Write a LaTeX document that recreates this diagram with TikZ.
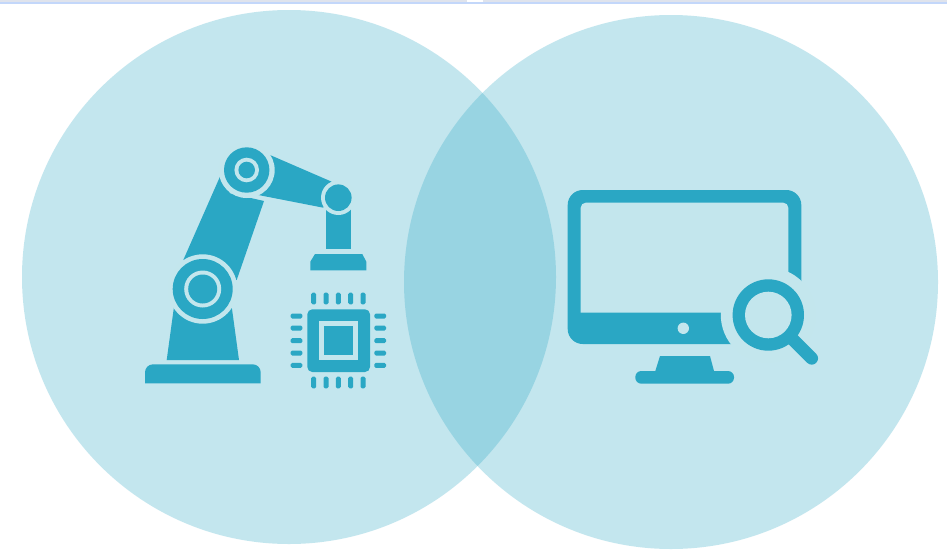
\documentclass[tikz,border=0pt]{standalone}
\definecolor{iconblue}{HTML}{2AA7C4}
\definecolor{paleblue}{RGB}{195,230,237}
\definecolor{stripgray}{HTML}{DFE3EC}
\definecolor{stripblue}{HTML}{C3D7FA}
\tikzset{
  icon/.style={fill=iconblue},
  halo/.style={fill=paleblue},
  disc/.style={fill=iconblue,fill opacity=0.28}
}
\begin{document}
\begin{tikzpicture}[x=1pt,y=-1pt]
     \useasboundingbox (0,0) rectangle (947,549);
     \fill[white] (0,0) rectangle (947,549);

     % strip at the top
     \fill[stripgray] (0,0) rectangle (947,2);
     \fill[stripblue] (0,2) rectangle (947,3.8);
     \fill[white] (467,0) rectangle (483,2);

     \fill[disc] (289,277) circle (267);
     \fill[disc] (671,282) circle (267);

     % robot
     \fill[icon] (145,383.3) [rounded corners=8] -- (145,364.3) -- (260.7,364.3) [sharp corners] -- (260.7,383.3) -- cycle;
     \fill[icon] (166.7,360)--(239,360)--(231.7,306.7)--(174,306.7)--cycle;
     \fill[icon] (183.3,260)--(220.7,175)--(230,193.3)--(264,201)--(236.7,280)--cycle;
     \fill[icon] (270,155)--(331.7,181.7)--(323.3,207.7)--(258.3,195)--cycle;
     \fill[icon] (325.7,208)--(351.3,208)--(351.3,249)--(325.7,249)--cycle;
     \fill[icon] (315,254)--(362.3,254)--(366.3,261.7)--(366.3,270.3)--(310.3,270.3)--(310.3,261.7)--cycle;

     % joints
     \fill[halo] (202.7,289) circle (34.7);
     \fill[icon] (202.7,289) circle (30);
     \fill[halo] (202.7,289) circle (18.5);
     \fill[icon] (202.7,289) circle (14.5);
     \fill[halo] (246.7,170) circle (28);
     \fill[icon] (246.7,170) circle (22.7);
     \fill[halo] (246.7,170) circle (12.3);
     \fill[icon] (246.7,170) circle (8.3);
     \fill[halo] (338.3,197.7) circle (17.3);
     \fill[icon] (338.3,197.7) circle (13.3);

     % chip
     \fill[icon,rounded corners=5] (307.3,309.3) rectangle (370,372);
     \fill[halo] (319,321.3) rectangle (357.7,360);
     \fill[icon] (323.7,325.7) rectangle (353.3,355.3);
     \foreach \x in {313.7,326,338.3,350.7,363} {
        \fill[icon,rounded corners=1.5] (\x-2.5,292.7) rectangle (\x+2.5,304.3);
        \fill[icon,rounded corners=1.5] (\x-2.5,376.7) rectangle (\x+2.5,388.3);
     }
     \foreach \y in {316,328,340.7,353,365.3} {
        \fill[icon,rounded corners=1.5] (290.7,\y-2.5) rectangle (302.3,\y+2.5);
        \fill[icon,rounded corners=1.5] (374.3,\y-2.5) rectangle (386,\y+2.5);
     }

     % monitor
     \fill[icon,rounded corners=15] (567.7,190) rectangle (801.3,344);
     \fill[halo] (580.7,312.7) [rounded corners=5] -- (580.7,202.7) -- (788.3,202.7) -- (788.3,312.7) [sharp corners] -- cycle;
     \fill[icon] (660,356)--(710,356)--(714,371)--(655.3,371)--cycle;
     \fill[icon,rounded corners=6] (635.3,371) rectangle (734,383.7);
     \fill[halo] (683.3,328.3) circle (5.7);

     % lens
     \fill[halo] (768.3,315) circle (47.5);
     \draw[iconblue,line width=12.7,line cap=round] (791.7,338.3)--(811.7,358.3);
     \fill[icon] (768.3,315) circle (35.7);
     \fill[halo] (768.3,315) circle (23.3);
\end{tikzpicture}
\end{document}
